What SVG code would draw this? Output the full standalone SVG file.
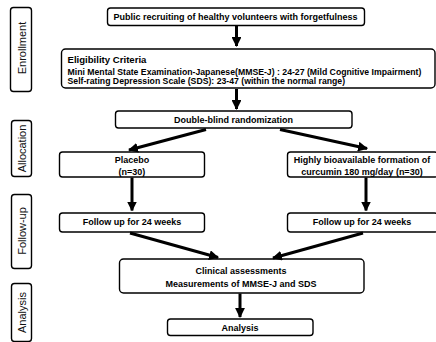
<svg xmlns="http://www.w3.org/2000/svg" width="436" height="342" viewBox="0 0 436 342">
<defs>
<style>
.box{fill:#fff;stroke:#000;stroke-width:1.4}
.side{fill:#fff;stroke:#000;stroke-width:1.4}
.t{font-family:"Liberation Sans",Arial,sans-serif;font-weight:bold;font-size:9px;fill:#000;text-anchor:middle}
.tl{font-family:"Liberation Sans",Arial,sans-serif;font-weight:bold;font-size:8.7px;fill:#000}
.h{font-family:"Liberation Sans",Arial,sans-serif;font-weight:bold;font-size:9.6px;fill:#000}
.s{font-family:"Liberation Sans",Arial,sans-serif;font-size:11px;fill:#111;text-anchor:middle}
.c{stroke:#000;stroke-width:3;fill:none}
</style>
<marker id="ah" viewBox="0 0 10 10" refX="9" refY="5" markerWidth="3.3" markerHeight="3.3" orient="auto" markerUnits="strokeWidth">
<path d="M0,0 L10,5 L0,10 z" fill="#000"/>
</marker>
</defs>
<rect width="436" height="342" fill="#fff"/>
<g id="side-enrollment"><rect class="side" x="10.5" y="7.5" width="21" height="84" rx="3"/><text class="s" transform="translate(25.5,48) rotate(-90)">Enrollment</text></g>
<g id="side-allocation"><rect class="side" x="11.5" y="120.5" width="20" height="56" rx="3"/><text class="s" transform="translate(25.5,148.5) rotate(-90)">Allocation</text></g>
<g id="side-followup"><rect class="side" x="11.5" y="194.5" width="20" height="74" rx="3"/><text class="s" transform="translate(25.5,231) rotate(-90)">Follow-up</text></g>
<g id="side-analysis"><rect class="side" x="11.5" y="283.5" width="20" height="58" rx="3"/><text class="s" transform="translate(25.5,312.5) rotate(-90)">Analysis</text></g>

<g id="recruit"><rect class="box" x="107.5" y="8" width="257" height="17.5" rx="3"/><text class="t" x="235.5" y="20">Public recruiting of healthy volunteers with forgetfulness</text></g>
<g id="eligibility"><rect class="box" x="61.5" y="49" width="373.5" height="39" rx="4"/>
<text class="h" x="67.5" y="63">Eligibility Criteria</text>
<text class="tl" x="67.5" y="74.5">Mini Mental State Examination-Japanese(MMSE-J) : 24-27 (Mild Cognitive Impairment)</text>
<text class="tl" x="67.5" y="83.5">Self-rating Depression Scale (SDS): 23-47 (within the normal range)</text></g>
<g id="randomization"><rect class="box" x="115.5" y="111" width="236.5" height="17" rx="3"/><text class="t" x="233.5" y="122.5">Double-blind randomization</text></g>
<g id="placebo"><rect class="box" x="59.5" y="152" width="145" height="25" rx="3"/><text class="t" x="132" y="163">Placebo</text><text class="t" x="132" y="174.5">(n=30)</text></g>
<g id="curcumin"><rect class="box" x="287.5" y="152" width="150" height="25" rx="3"/><text class="t" x="362" y="162.5">Highly bioavailable formation of</text><text class="t" x="362" y="174.5">curcumin 180 mg/day (n=30)</text></g>
<g id="followup-left"><rect class="box" x="59.5" y="213" width="145" height="19" rx="3"/><text class="t" x="132" y="225">Follow up for 24 weeks</text></g>
<g id="followup-right"><rect class="box" x="287.5" y="213" width="150" height="19" rx="3"/><text class="t" x="362" y="225">Follow up for 24 weeks</text></g>
<g id="clinical"><rect class="box" x="119.5" y="259" width="244.5" height="34" rx="4"/><text class="t" x="241" y="274">Clinical assessments</text><text class="t" x="241" y="287">Measurements of MMSE-J and SDS</text></g>
<g id="analysis"><rect class="box" x="167.5" y="319" width="145.5" height="16.5" rx="3"/><text class="t" x="240" y="331">Analysis</text></g>

<g id="connectors">
<line class="c" x1="236.5" y1="26" x2="236.5" y2="46" marker-end="url(#ah)"/>
<line class="c" x1="236.5" y1="89" x2="236.5" y2="109" marker-end="url(#ah)"/>
<line class="c" x1="206" y1="129.5" x2="129" y2="150" marker-end="url(#ah)"/>
<line class="c" x1="280" y1="129.5" x2="367" y2="148.5" marker-end="url(#ah)"/>
<line class="c" x1="132" y1="177.5" x2="132" y2="210.5" marker-end="url(#ah)"/>
<line class="c" x1="366" y1="177.5" x2="366" y2="210.5" marker-end="url(#ah)"/>
<line class="c" x1="130" y1="233" x2="218" y2="257.5" marker-end="url(#ah)"/>
<line class="c" x1="363" y1="233" x2="273" y2="258" marker-end="url(#ah)"/>
<line class="c" x1="240" y1="293.5" x2="240" y2="317" marker-end="url(#ah)"/>
</g>
</svg>
